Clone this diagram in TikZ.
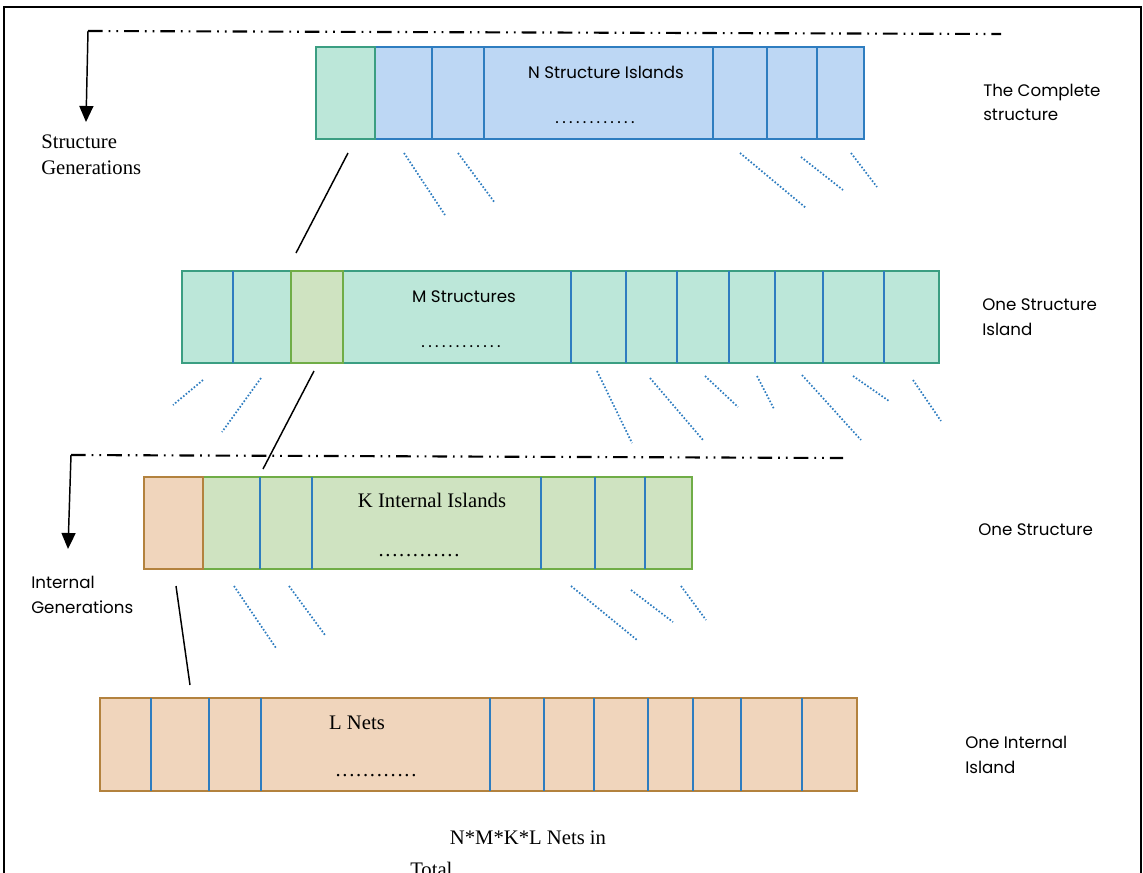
\documentclass[tikz,border=0pt]{standalone}
\usepackage{fontspec}
\setmainfont{Liberation Serif}
\newfontfamily\gsans{Poppins}
\usetikzlibrary{arrows.meta}
\definecolor{blueFill}{HTML}{BDD7F4}
\definecolor{blueLine}{HTML}{2E7DC0}
\definecolor{tealFill}{HTML}{BCE7D9}
\definecolor{tealLine}{HTML}{3B9E82}
\definecolor{greenFill}{HTML}{CFE3C1}
\definecolor{greenLine}{HTML}{70AD47}
\definecolor{peachFill}{HTML}{F0D5BC}
\definecolor{peachLine}{HTML}{B3823E}
\newcommand\dotrow[1]{\makebox[#1]{\xleaders\hbox to 5.15pt{\hss.\hss}\hfill}}
\tikzset{
  barline/.style={line width=1.5pt},
  divider/.style={draw=blueLine,line width=1.4pt},
  dotline/.style={draw=blueLine,line width=1.3pt,dash pattern=on 1.2pt off 1.4pt},
  dashdot/.style={line width=1.6pt,dash pattern=on 11pt off 4.5pt on 1.3pt off 4.5pt on 1.3pt off 4.5pt},
  genarrow/.style={line width=1.1pt,-{Triangle[width=10.5pt,length=12pt]}},
  conn/.style={line width=1.1pt},
  stxt/.style={font=\gsans\fontsize{12.5}{14}\selectfont,inner sep=0pt},
  rtxt/.style={font=\fontsize{15.5}{18}\selectfont,inner sep=0pt},
}
\begin{document}
\begin{tikzpicture}[x=0.75pt,y=-0.75pt]
\useasboundingbox (0,0) rectangle (1143,872);
\clip (0,0) rectangle (1143,872);
% frame
\draw[line width=1.5pt] (4,880) -- (4,7) -- (1141,7) -- (1141,880);

% generation lines
\coordinate (g1s) at (88,31);
\coordinate (g1e) at (1001,34);
\coordinate (g1a) at (86,122);
\draw[dashdot] (g1s) -- (g1e);
\draw[genarrow] (g1s) -- (g1a);
\coordinate (g2s) at (71,455);
\coordinate (g2e) at (843,458);
\coordinate (g2a) at (68,549);
\draw[dashdot] (g2s) -- (g2e);
\draw[genarrow] (g2s) -- (g2a);

% ---- bar 1
\draw[barline,draw=blueLine,fill=blueFill] (316,47) rectangle (864,139);
\foreach \x in {432,484,713,767,817} \draw[divider] (\x,47) -- (\x,139);
\draw[barline,draw=tealLine,fill=tealFill] (316,47) rectangle (375,139);
\node[stxt,anchor=base] (t1) at (606,78) {N Structure Islands};
\node[stxt,anchor=base] (d1) at (595,123) {\dotrow{62pt}};

% ---- bar 2
\draw[barline,draw=tealLine,fill=tealFill] (182,271) rectangle (939,363);
\foreach \x in {233,571,626,677,729,775,823,884} \draw[divider] (\x,271) -- (\x,363);
\draw[barline,draw=greenLine,fill=greenFill] (291,271) rectangle (343,363);
\node[stxt,anchor=base] (t2) at (464,302) {M Structures};
\node[stxt,anchor=base] (d2) at (461,347) {\dotrow{62pt}};

% ---- bar 3
\draw[barline,draw=greenLine,fill=greenFill] (144,477) rectangle (692,569);
\foreach \x in {260,312,541,595,645} \draw[divider] (\x,477) -- (\x,569);
\draw[barline,draw=peachLine,fill=peachFill] (144,477) rectangle (203,569);
\node[rtxt,anchor=base] (t3) at (432,507) {K Internal Islands};
\node[rtxt,anchor=base] (d3) at (419,556) {\dotrow{62pt}};

% ---- bar 4
\draw[barline,draw=peachLine,fill=peachFill] (100,698) rectangle (857,791);
\foreach \x in {151,209,261,490,544,594,648,693,741,802} \draw[divider] (\x,698) -- (\x,791);
\node[rtxt,anchor=base] (t4) at (357,729) {L Nets};
\node[rtxt,anchor=base] (d4) at (376,776) {\dotrow{62pt}};

% connectors between levels
\coordinate (c1a) at (348,153); \coordinate (c1b) at (296,253);
\coordinate (c2a) at (314,371); \coordinate (c2b) at (263,469);
\coordinate (c3a) at (176,586); \coordinate (c3b) at (190,685);
\draw[conn] (c1a) -- (c1b);
\draw[conn] (c2a) -- (c2b);
\draw[conn] (c3a) -- (c3b);

% dotted fan lines
\draw[dotline] (404,153) -- (445,215);
\draw[dotline] (458,153) -- (495,203);
\draw[dotline] (740,153) -- (806,208);
\draw[dotline] (801,157) -- (843,190);
\draw[dotline] (851,153) -- (877,187);

\draw[dotline] (203,380) -- (173,405);
\draw[dotline] (261,378) -- (222,432);
\draw[dotline] (597,371) -- (632,443);
\draw[dotline] (650,378) -- (703,440);
\draw[dotline] (705,376) -- (738,407);
\draw[dotline] (757,376) -- (774,409);
\draw[dotline] (802,375) -- (861,440);
\draw[dotline] (853,376) -- (889,401);
\draw[dotline] (913,380) -- (941,421);

\draw[dotline] (234,586) -- (276,648);
\draw[dotline] (289,586) -- (325,635);
\draw[dotline] (571,586) -- (637,640);
\draw[dotline] (631,590) -- (673,622);
\draw[dotline] (681,586) -- (706,620);

% left labels
\node[rtxt,anchor=base west] (l1a) at (41,148) {Structure};
\node[rtxt,anchor=base west] (l1b) at (41,174) {Generations};
\node[stxt,anchor=base west] (l2a) at (31,588) {Internal};
\node[stxt,anchor=base west] (l2b) at (31,613) {Generations};

% right labels
\node[stxt,anchor=base west] (r1a) at (983,96) {The Complete};
\node[stxt,anchor=base west] (r1b) at (983,120) {structure};
\node[stxt,anchor=base west] (r2a) at (982,310) {One Structure};
\node[stxt,anchor=base west] (r2b) at (982,335) {Island};
\node[stxt,anchor=base west] (r3a) at (978,535) {One Structure};
\node[stxt,anchor=base west] (r4a) at (965,748) {One Internal};
\node[stxt,anchor=base west] (r4b) at (965,773) {Island};

% bottom text
\node[rtxt,anchor=base] (b1) at (528,844) {N*M*K*L Nets in};
\node[rtxt,anchor=base west] (b2) at (410,876) {Total};
\end{tikzpicture}
\end{document}
